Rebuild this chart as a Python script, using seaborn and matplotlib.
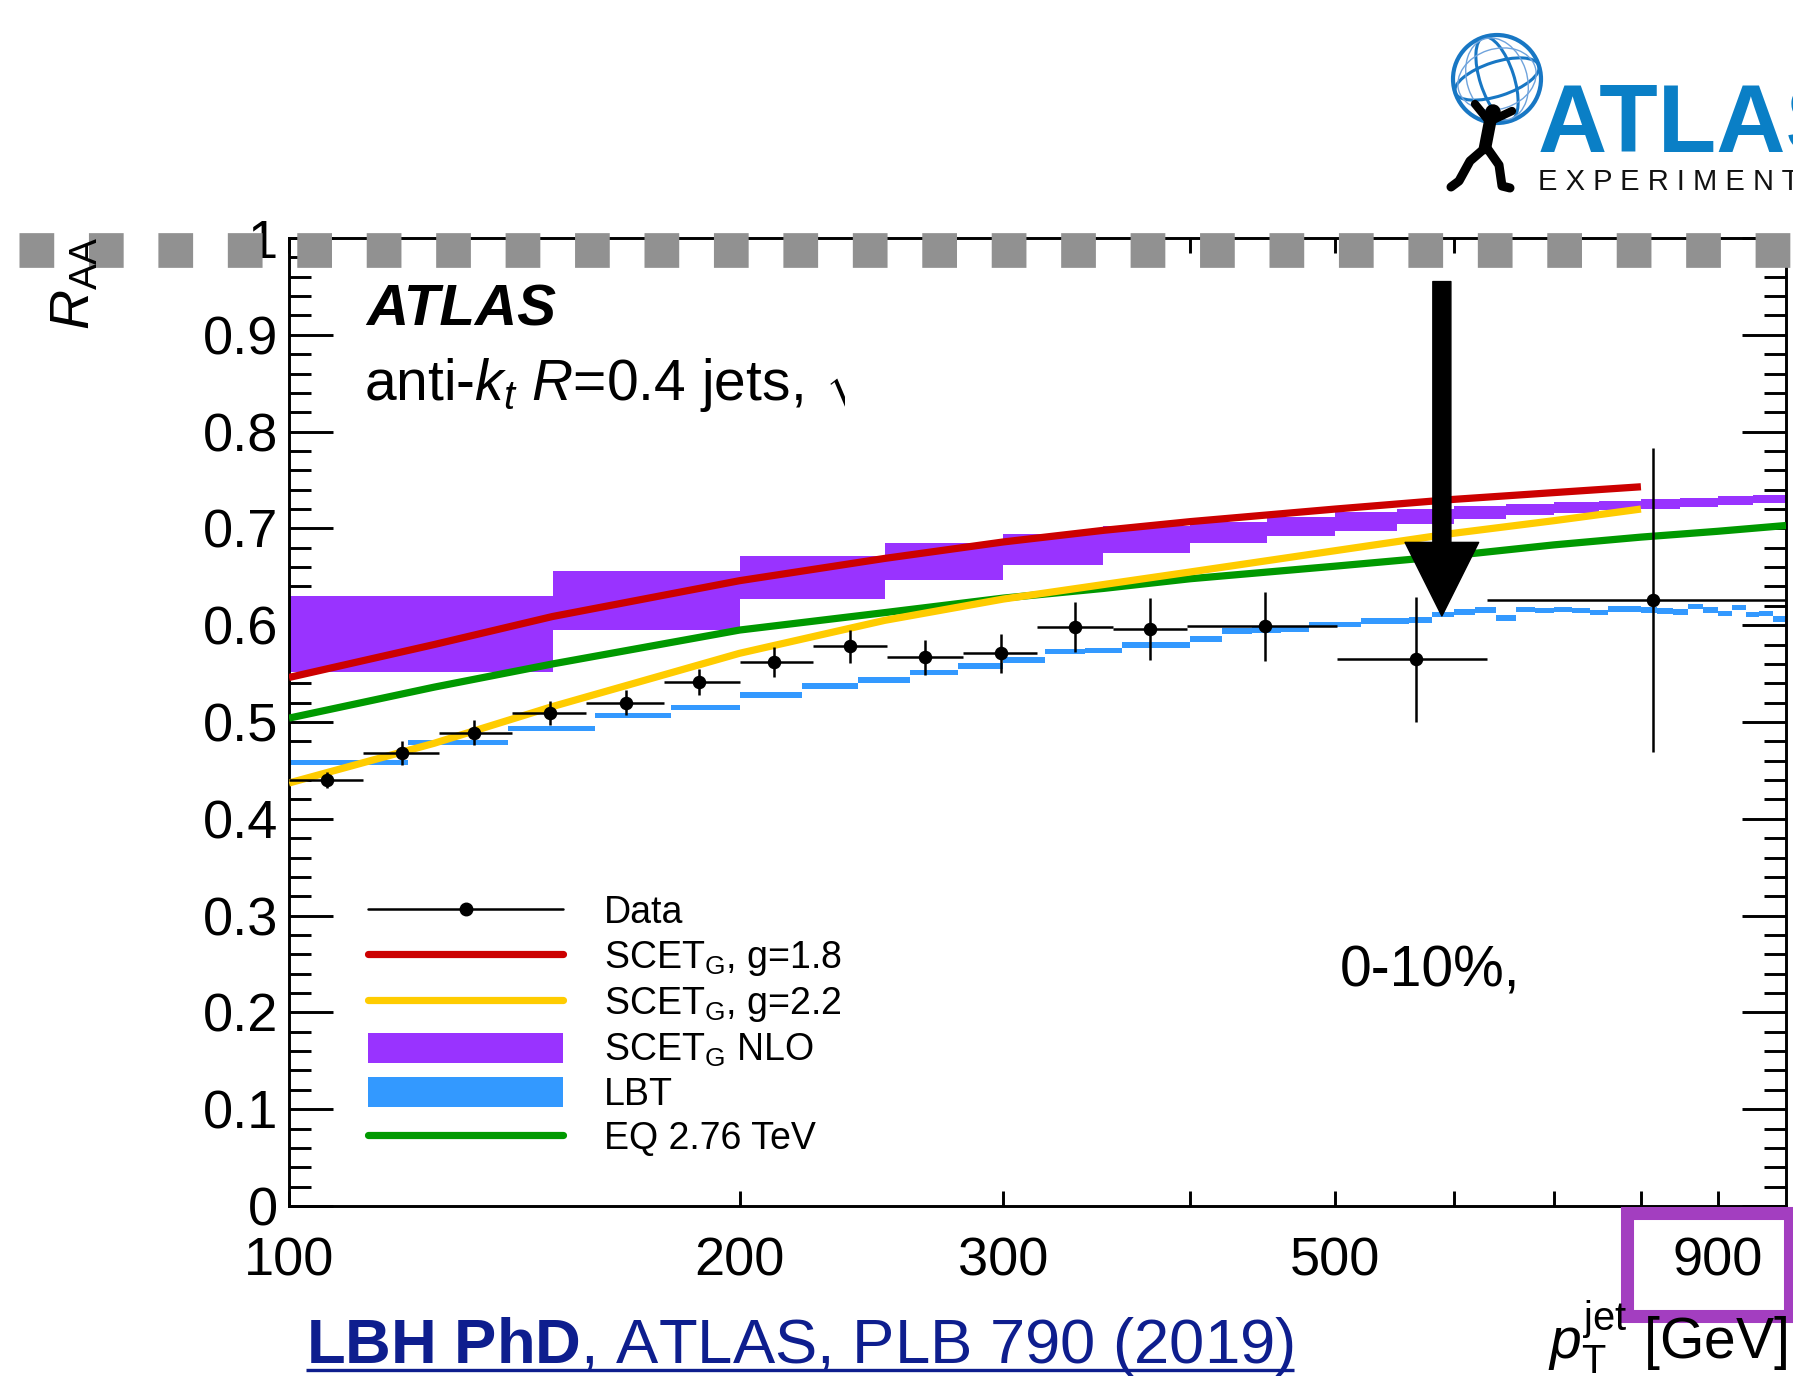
import numpy as np
import pandas as pd
import matplotlib
matplotlib.use("Agg")
import matplotlib.pyplot as plt
from matplotlib.patches import Rectangle, Circle, Ellipse, FancyArrowPatch, ArrowStyle, Patch
from matplotlib.lines import Line2D
from matplotlib.ticker import FixedLocator, FuncFormatter, MultipleLocator, NullLocator
from matplotlib.transforms import Bbox
import seaborn as sns

# ---------------- data ----------------
# ATLAS jet R_AA, 0-10% centrality
data_edges = [100, 112, 126, 141, 158, 178, 200, 224, 251, 282, 316, 355, 398, 501, 631, 1000]
data_pt = [106, 119, 133, 149.5, 168, 188, 211, 237, 266, 299, 335, 376, 449, 566, 815]
data_raa = [0.440, 0.468, 0.489, 0.509, 0.520, 0.541, 0.562, 0.578, 0.567, 0.571,
            0.598, 0.596, 0.599, 0.565, 0.626]
data_err = [0.008, 0.0125, 0.013, 0.0125, 0.013, 0.0135, 0.015, 0.017, 0.018, 0.020,
            0.0255, 0.032, 0.0356, 0.0646, 0.157]

# SCET_G, g=1.8
scet18_pt = [100, 125, 150, 200, 250, 300, 350, 400, 500, 600, 700, 800]
scet18_raa = [0.546, 0.580, 0.609, 0.646, 0.669, 0.686, 0.698, 0.707, 0.720, 0.730, 0.737, 0.743]

# SCET_G, g=2.2
scet22_pt = [100, 125, 150, 200, 250, 300, 350, 400, 500, 600, 700, 800]
scet22_raa = [0.437, 0.478, 0.516, 0.571, 0.605, 0.627, 0.642, 0.655, 0.677, 0.695, 0.708, 0.720]

# EQ 2.76 TeV
eq_pt = [100, 125, 150, 200, 250, 300, 350, 400, 500, 600, 700, 800, 900, 1000]
eq_raa = [0.504, 0.536, 0.560, 0.595, 0.613, 0.628, 0.638, 0.648, 0.661, 0.672, 0.683, 0.691, 0.697, 0.703]

# SCET_G NLO band (bin edges, lower and upper values)
nlo_edges = [100, 150, 200, 250, 300, 350, 400, 450, 500, 550, 600, 650, 700, 750, 800, 850, 900, 950, 1000]
nlo_hi = [0.6305, 0.656, 0.672, 0.6845, 0.694, 0.702, 0.707, 0.712, 0.7165, 0.720,
          0.723, 0.725, 0.727, 0.728, 0.730, 0.7314, 0.733, 0.7345]
nlo_lo = [0.552, 0.595, 0.627, 0.647, 0.662, 0.675, 0.6845, 0.692, 0.6976, 0.7045,
          0.7097, 0.714, 0.716, 0.719, 0.720, 0.7225, 0.724, 0.726]

# LBT (20 GeV bins from 100 to 1000 GeV)
lbt_edges = list(range(100, 1001, 20))
lbt_raa = [0.458, 0.479, 0.4935, 0.5065, 0.515, 0.528, 0.537, 0.5434, 0.551, 0.558,
           0.564, 0.5727, 0.5736, 0.5795, 0.5795, 0.5857, 0.594, 0.595, 0.596, 0.601,
           0.601, 0.6043, 0.6043, 0.6054, 0.611, 0.6136, 0.6157, 0.6074, 0.6164, 0.615,
           0.6164, 0.6154, 0.6133, 0.6167, 0.6167, 0.6157, 0.6147, 0.6136, 0.6192, 0.6157,
           0.6123, 0.6185, 0.611, 0.6123, 0.6064]
lbt_half = 0.0028

x_ticks = [100, 200, 300, 400, 500, 600, 700, 800, 900]
x_labels = {100: "100", 200: "200", 300: "300", 500: "500", 900: "900"}

# ---------------- style ----------------
sns.set_style("ticks")
plt.rcParams["font.family"] = ["Liberation Sans", "DejaVu Sans"]
plt.rcParams["mathtext.fontset"] = "custom"
plt.rcParams["mathtext.rm"] = "Liberation Sans"
plt.rcParams["mathtext.it"] = "Liberation Sans:italic"
plt.rcParams["mathtext.bf"] = "Liberation Sans:bold"
plt.rcParams["mathtext.sf"] = "Liberation Sans"
for key in ["text.color", "axes.labelcolor", "xtick.color", "ytick.color", "axes.edgecolor"]:
    plt.rcParams[key] = "black"

RED = "#CC0000"
YELLOW = "#FFCC00"
GREEN = "#009900"
PURPLE = "#9933FF"
BLUE = "#3399FF"

W, H = 1793, 1382
fig = plt.figure(figsize=(W / 100, H / 100), dpi=100)
fig.patch.set_facecolor("white")

x0, x1, ytop, ybot = 289, 1786, 238, 1206
ax = fig.add_axes([x0 / W, 1 - ybot / H, (x1 - x0) / W, (ybot - ytop) / H])
ax.set_facecolor("white")
ax.set_xscale("log")

# SCET_G NLO band
nlo_w = np.diff(nlo_edges)
ax.bar(nlo_edges[:-1], np.array(nlo_hi) - np.array(nlo_lo), width=nlo_w,
       bottom=nlo_lo, align="edge", color=PURPLE, linewidth=0, zorder=1)

# LBT band
lbt_w = np.diff(lbt_edges)
lbt_vals = np.array(lbt_raa)
ax.bar(lbt_edges[:-1], 2 * lbt_half, width=lbt_w, bottom=lbt_vals - lbt_half,
       align="edge", color=BLUE, linewidth=0, zorder=2)

# theory curves
curves = pd.concat([
    pd.DataFrame({"pt": eq_pt, "raa": eq_raa, "model": "EQ"}),
    pd.DataFrame({"pt": scet18_pt, "raa": scet18_raa, "model": "g18"}),
    pd.DataFrame({"pt": scet22_pt, "raa": scet22_raa, "model": "g22"}),
])
for name, col, z in [("EQ", GREEN, 3.0), ("g18", RED, 3.1), ("g22", YELLOW, 3.2)]:
    sub = curves[curves["model"] == name]
    sns.lineplot(data=sub, x="pt", y="raa", ax=ax, color=col, lw=5.2,
                 legend=False, zorder=z, solid_capstyle="butt")

# data
pt = np.array(data_pt)
edges = np.array(data_edges)
xerr = np.vstack([pt - edges[:-1], edges[1:] - pt])
ax.errorbar(pt, data_raa, yerr=data_err, xerr=xerr, fmt="none", ecolor="black",
            elinewidth=1.8, capsize=0, zorder=4)
sns.scatterplot(x=data_pt, y=data_raa, ax=ax, color="black", s=95, edgecolor="black",
                linewidth=0, zorder=5, legend=False)

# arrow
arrow = FancyArrowPatch(posA=(589, 0.955), posB=(589, 0.6095),
                        arrowstyle=ArrowStyle("simple", head_length=53, head_width=53, tail_width=13),
                        mutation_scale=1, color="black", shrinkA=0, shrinkB=0, zorder=6,
                        transform=ax.transData)
ax.add_patch(arrow)

# axes
ax.set_xlim(100, 1000)
ax.set_ylim(0, 1)
ax.set_xlabel("")
ax.set_ylabel("")
ax.xaxis.set_major_locator(FixedLocator(x_ticks))
ax.xaxis.set_major_formatter(FuncFormatter(lambda v, p: x_labels.get(int(round(v)), "")))
ax.xaxis.set_minor_locator(NullLocator())
ax.yaxis.set_major_locator(MultipleLocator(0.1))
ax.yaxis.set_minor_locator(MultipleLocator(0.02))
ax.yaxis.set_major_formatter(FuncFormatter(lambda v, p: "%g" % round(v, 2)))
for s in ax.spines.values():
    s.set_linewidth(2.1)
    s.set_color("black")
ax.tick_params(which="both", direction="in", top=True, right=True, width=2.1, color="black",
               labelcolor="black")
ax.tick_params(axis="y", which="major", length=31.5, labelsize=39, pad=8)
ax.tick_params(axis="y", which="minor", length=15.8)
ax.tick_params(axis="x", which="major", length=10.8, labelsize=39, pad=22)

# legend
handles = [
    Line2D([], [], color="black", lw=1.8, marker="o", ms=9),
    Line2D([], [], color=RED, lw=5.2),
    Line2D([], [], color=YELLOW, lw=5.2),
    Patch(facecolor=PURPLE, edgecolor="none"),
    Patch(facecolor=BLUE, edgecolor="none"),
    Line2D([], [], color=GREEN, lw=5.2),
]
labels = ["Data", r"SCET$_{\mathrm{G}}$, g=1.8", r"SCET$_{\mathrm{G}}$, g=2.2",
          r"SCET$_{\mathrm{G}}$ NLO", "LBT", "EQ 2.76 TeV"]
leg = ax.legend(handles, labels, loc="center left", bbox_to_anchor=(0.0528, 0.186),
                frameon=False, fontsize=27, handlelength=5.2, handletextpad=1.1,
                handleheight=0.88, labelspacing=0.2, borderpad=0, borderaxespad=0,
                numpoints=1)
for t in leg.get_texts():
    t.set_color("black")

# ---------------- overlay in pixel coordinates ----------------
ov = fig.add_axes([0, 0, 1, 1], zorder=10)
ov.set_xlim(0, W)
ov.set_ylim(H, 0)
ov.axis("off")
ov.patch.set_alpha(0)

# plot labels
ov.text(366, 325, "ATLAS", fontsize=42, fontweight="bold", fontstyle="italic",
        ha="left", va="baseline")
ov.text(364, 400, r"anti-$k_{t}$ $R$=0.4 jets,", fontsize=41, ha="left", va="baseline")
sq = ov.text(824, 400, r"$\sqrt{s_{\mathrm{NN}}}$", fontsize=41, ha="left", va="baseline")
sq.set_clip_box(Bbox([[0, 0], [845, H]]))
sq.set_clip_on(True)
ov.text(1340, 986, "0-10%,", fontsize=41, ha="left", va="baseline")

ov.text(75, 330, r"$R_{\mathrm{AA}}$", fontsize=40, rotation=90, ha="center", va="bottom")
ov.text(1787, 1359, r"$p_{\mathrm{T}}^{\mathrm{jet}}$ [GeV]", fontsize=41, ha="right", va="baseline")

# dashed grey band along the top
ov.plot([19, 1810], [249.5, 249.5], color="#919191", lw=25, linestyle=(0, (1, 1)),
        dash_capstyle="butt", solid_capstyle="butt")

# highlight box around the last tick label
ov.add_patch(Rectangle((1626.5, 1212.5), 163, 103, fill=False, ec="#A33EC0", lw=9.4,
                       joinstyle="miter"))

# citation
cit = ov.text(306, 1363, r"$\mathbf{LBH\ PhD}$, ATLAS, PLB 790 (2019)", fontsize=45.6,
              color="#0E1E8E", ha="left", va="baseline")
fig.canvas.draw()
bb = cit.get_window_extent()
ov.plot([bb.x0, bb.x1], [1369.5, 1369.5], color="#0E1E8E", lw=2.4, solid_capstyle="butt")

# logo
ov.text(1538, 152, "ATLAS", fontsize=69, fontweight="bold", color="#0A7FC6",
        ha="left", va="baseline")
ov.text(1538, 190, "E X P E R I M E N T", fontsize=21, color="#111111",
        ha="left", va="baseline")
ov.add_patch(Circle((1497, 79), 44, fill=False, ec="#1877C4", lw=3))
for (w_, h_, ang, lw_, col) in [(88, 34, -18, 2.2, "#1877C4"), (34, 88, -18, 2.2, "#1877C4"),
                                 (80, 60, -18, 1.0, "#6FA3DC"), (60, 84, -18, 1.0, "#6FA3DC")]:
    ov.add_patch(Ellipse((1497, 79), w_, h_, angle=ang, fill=False, ec=col, lw=lw_))
ov.add_patch(Circle((1493, 112), 7, color="black"))
for seg, lw_ in [([(1491, 117), (1485, 148)], 9),
                 ([(1488, 120), (1475, 104)], 6),
                 ([(1495, 119), (1512, 111)], 6),
                 ([(1485, 148), (1470, 161), (1459, 181), (1451, 187)], 6.5),
                 ([(1487, 148), (1499, 165), (1502, 186), (1510, 188)], 6.5)]:
    xs, ys = zip(*seg)
    ov.plot(xs, ys, color="black", lw=lw_, solid_capstyle="round", solid_joinstyle="round")

fig.savefig("out.png", dpi=100, facecolor="white")
